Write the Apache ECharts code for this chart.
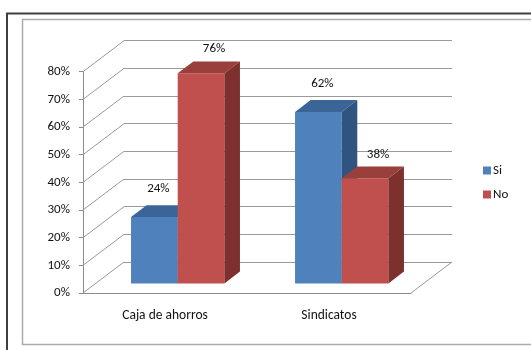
<!DOCTYPE html>
<html>
<head>
<meta charset="utf-8">
<script src="https://cdn.jsdelivr.net/npm/echarts@6/dist/echarts.min.js"></script>
<style>
  html, body { margin: 0; padding: 0; background: #fff; }
  #chart { width: 531px; height: 350px; }
</style>
</head>
<body>
<div id="chart"></div>
<script>
// Survey answers by group
const categories = ['Caja de ahorros', 'Sindicatos'];
const seriesNames = ['Si', 'No'];
const siValues = [24, 62];
const noValues = [76, 38];
const yTicks = [0, 10, 20, 30, 40, 50, 60, 70, 80];

// 3D look: depth vector of the floor and the bar slab within it
const DEPTH = [41, -31];
const BAR_FRONT = 0.31;
const BAR_BACK = 0.69;
const BAR_SHARE = 0.2846; // width of one bar as a share of the category band

const FONT = 'Carlito, Lato, "Liberation Sans", sans-serif';
const TEXT = '#111';

const palette = {
  Si: { front: '#4F81BD', top: '#3C6597', side: '#2F5480' },
  No: { front: '#C0504D', top: '#99403D', side: '#7D302E' }
};

function barRenderer(seriesIndex, labelNudge) {
  const colors = palette[seriesNames[seriesIndex]];
  return function (params, api) {
    const cat = api.value(0);
    const v = api.value(1);
    const base = api.coord([cat, 0]);
    const top = api.coord([cat, v]);
    const band = api.size([1, 0])[0];
    const w = band * BAR_SHARE;
    const x0 = base[0] + (seriesIndex === 0 ? -w : 0);
    const fx = DEPTH[0] * BAR_FRONT, fy = DEPTH[1] * BAR_FRONT;
    const bx = DEPTH[0] * BAR_BACK, by = DEPTH[1] * BAR_BACK;
    const ty = top[1], gy = base[1];
    return {
      type: 'group',
      children: [
        {
          type: 'rect',
          shape: { x: x0 + fx, y: ty + fy, width: w, height: gy - ty },
          style: { fill: colors.front }
        },
        {
          type: 'polygon',
          shape: { points: [
            [x0 + fx, ty + fy], [x0 + w + fx, ty + fy],
            [x0 + w + bx, ty + by], [x0 + bx, ty + by]
          ] },
          style: { fill: colors.top }
        },
        {
          type: 'polygon',
          shape: { points: [
            [x0 + w + fx, ty + fy], [x0 + w + bx, ty + by],
            [x0 + w + bx, gy + by], [x0 + w + fx, gy + fy]
          ] },
          style: { fill: colors.side }
        },
        {
          type: 'text',
          x: x0 + fx + w / 2 + labelNudge[0],
          y: ty + fy - labelNudge[1],
          style: {
            text: v + '%',
            fill: TEXT,
            font: '13px ' + FONT,
            align: 'center',
            verticalAlign: 'middle'
          }
        }
      ]
    };
  };
}

// Left wall diagonals and floor edges
function wallRenderer(params, api) {
  const cs = params.coordSys;
  const v = api.value(0);
  const p = api.coord([0, v]);
  const y = p[1];
  const lineStyle = { stroke: '#9a9a9a', lineWidth: 1 };
  const children = [{
    type: 'line',
    shape: { x1: cs.x, y1: y, x2: cs.x + DEPTH[0], y2: y + DEPTH[1] },
    style: lineStyle
  }];
  if (v === 0) {
    children.push({
      type: 'line',
      shape: { x1: cs.x + cs.width, y1: y, x2: cs.x + cs.width + DEPTH[0], y2: y + DEPTH[1] },
      style: lineStyle
    });
  }
  return { type: 'group', children: children };
}

const chart = echarts.init(document.getElementById('chart'), null, { renderer: 'canvas' });

const axisGray = '#8c8c8c';

chart.setOption({
  backgroundColor: '#fff',
  animation: false,
  textStyle: { fontFamily: FONT },
  graphic: [
    { type: 'rect', shape: { x: 7, y: 13.5, width: 600, height: 400 },
      style: { fill: null, stroke: '#3f3f3f', lineWidth: 2 } },
    { type: 'rect', shape: { x: 22.5, y: 19.5, width: 600, height: 325 },
      style: { fill: null, stroke: '#ababab', lineWidth: 1.5 } }
  ],
  legend: {
    data: seriesNames,
    orient: 'vertical',
    left: 478,
    top: 159,
    itemWidth: 8,
    itemHeight: 8,
    itemGap: 11,
    icon: 'rect',
    textStyle: { fontSize: 13, color: TEXT, fontFamily: FONT, padding: [0, 0, 0, -3] }
  },
  grid: [
    { left: 83, top: 71.7, width: 328, height: 221.3 },
    { left: 124, top: 40.7, width: 328, height: 221.3 }
  ],
  xAxis: [
    {
      type: 'category', gridIndex: 0, data: categories,
      axisLine: { lineStyle: { color: axisGray } },
      axisTick: { length: 4, lineStyle: { color: axisGray } },
      axisLabel: { margin: 16, fontSize: 13.5, color: TEXT, fontFamily: FONT }
    },
    {
      type: 'category', gridIndex: 1, data: categories,
      show: false
    }
  ],
  yAxis: [
    {
      type: 'value', gridIndex: 0, min: 0, max: 80, interval: 10,
      axisLine: { show: true, lineStyle: { color: axisGray } },
      axisTick: { show: true, length: 4, lineStyle: { color: axisGray } },
      splitLine: { show: false },
      axisLabel: { margin: 13, fontSize: 13, color: TEXT, fontFamily: FONT,
        formatter: function (v) { return v + '%'; } }
    },
    {
      type: 'value', gridIndex: 1, min: 0, max: 80, interval: 10,
      axisLine: { show: false },
      axisTick: { show: false },
      axisLabel: { show: false },
      splitLine: { show: true, lineStyle: { color: '#9a9a9a', width: 1 } }
    }
  ],
  series: [
    {
      name: 'walls',
      type: 'custom',
      xAxisIndex: 0, yAxisIndex: 0,
      data: yTicks.map(function (t) { return [t]; }),
      encode: { y: 0 },
      renderItem: wallRenderer,
      silent: true,
      z: 1
    },
    {
      name: 'Si',
      type: 'custom',
      xAxisIndex: 0, yAxisIndex: 0,
      itemStyle: { color: palette.Si.front },
      data: siValues.map(function (v, i) { return [i, v]; }),
      encode: { x: 0, y: 1 },
      renderItem: barRenderer(0, [4, 28]),
      z: 3
    },
    {
      name: 'No',
      type: 'custom',
      xAxisIndex: 0, yAxisIndex: 0,
      itemStyle: { color: palette.No.front },
      data: noValues.map(function (v, i) { return [i, v]; }),
      encode: { x: 0, y: 1 },
      renderItem: barRenderer(1, [13, 24]),
      z: 4
    }
  ]
});
</script>
</body>
</html>
